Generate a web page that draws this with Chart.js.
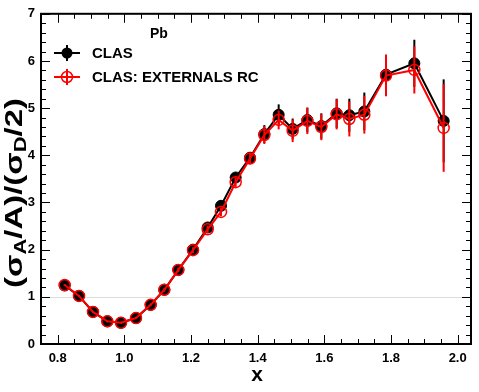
<!DOCTYPE html>
<html><head><meta charset="utf-8">
<script src="https://cdn.jsdelivr.net/npm/chart.js@4/dist/chart.umd.min.js"></script>
<style>html,body{margin:0;padding:0;background:#fff}#wrap{width:479px;height:392px}</style>
</head><body><div id="wrap"><canvas id="c" width="479" height="392"></canvas></div>
<script>
const xValues = [0.821, 0.864, 0.906, 0.949, 0.990, 1.035, 1.079, 1.120, 1.162, 1.206, 1.250, 1.290, 1.334, 1.377, 1.420, 1.463, 1.505, 1.549, 1.591, 1.637, 1.675, 1.720, 1.785, 1.870, 1.958];
const clasY   = [1.24, 1.02, 0.68, 0.48, 0.45, 0.55, 0.83, 1.15, 1.57, 2.00, 2.47, 2.93, 3.53, 3.95, 4.45, 4.86, 4.56, 4.75, 4.62, 4.89, 4.85, 4.93, 5.71, 5.95, 4.73];
const clasErr = [0.02, 0.02, 0.02, 0.02, 0.02, 0.02, 0.03, 0.04, 0.05, 0.06, 0.08, 0.09, 0.10, 0.12, 0.19, 0.22, 0.22, 0.26, 0.27, 0.31, 0.35, 0.40, 0.42, 0.50, 0.88];
const rcY     = [1.25, 1.02, 0.68, 0.48, 0.45, 0.55, 0.83, 1.15, 1.57, 1.99, 2.43, 2.80, 3.43, 3.93, 4.43, 4.75, 4.52, 4.73, 4.60, 4.87, 4.77, 4.86, 5.69, 5.81, 4.58];
const rcErr   = [0.02, 0.02, 0.02, 0.02, 0.02, 0.02, 0.03, 0.04, 0.05, 0.06, 0.08, 0.09, 0.10, 0.12, 0.19, 0.20, 0.24, 0.28, 0.28, 0.32, 0.37, 0.40, 0.44, 0.50, 0.93];
const xTicks = [0.8, 1.0, 1.2, 1.4, 1.6, 1.8, 2.0];
const yTicks = [0, 1, 2, 3, 4, 5, 6, 7];
const seriesNames = ['CLAS', 'CLAS: EXTERNALS RC'];
const targetLabel = 'Pb';

const FONT = '"Liberation Sans", Arial, Helvetica, sans-serif';
const errs = [clasErr, rcErr];

const decor = {
  id: 'decor',
  beforeDatasetsDraw(chart) {
    const ctx = chart.ctx, a = chart.chartArea, y = chart.scales.y;
    ctx.save();
    ctx.strokeStyle = '#dcdcdc'; ctx.lineWidth = 1;
    const py = Math.round(y.getPixelForValue(1)) + 0.5;
    ctx.beginPath(); ctx.moveTo(a.left, py); ctx.lineTo(a.right, py); ctx.stroke();
    ctx.restore();
  },
  beforeDatasetDraw(chart, args) {
    const ctx = chart.ctx, xs = chart.scales.x, ys = chart.scales.y;
    const ds = chart.data.datasets[args.index];
    const e = errs[args.index];
    ctx.save();
    ctx.strokeStyle = ds.borderColor; ctx.lineWidth = 2;
    ds.data.forEach((p, i) => {
      const px = xs.getPixelForValue(p.x);
      ctx.beginPath();
      ctx.moveTo(px, ys.getPixelForValue(p.y - e[i]));
      ctx.lineTo(px, ys.getPixelForValue(p.y + e[i]));
      ctx.stroke();
    });
    ctx.restore();
  },
  afterDraw(chart) {
    const ctx = chart.ctx, a = chart.chartArea, xs = chart.scales.x, ys = chart.scales.y;
    ctx.save();
    // ticks (inward, all four sides)
    ctx.strokeStyle = '#000'; ctx.lineWidth = 1;
    ctx.beginPath();
    for (let v = 0.75; v <= 2.04 + 1e-9; v += 0.05) {
      const major = Math.abs(v * 5 - Math.round(v * 5)) < 1e-6;
      const L = major ? 9 : 5;
      const px = Math.round(xs.getPixelForValue(v)) + 0.5;
      ctx.moveTo(px, a.bottom); ctx.lineTo(px, a.bottom - L);
      ctx.moveTo(px, a.top); ctx.lineTo(px, a.top + L);
    }
    for (let k = 0; k <= 35; k++) {
      const v = k * 0.2;
      const major = k % 5 === 0;
      const L = major ? 9 : 5;
      const py = Math.round(ys.getPixelForValue(v)) + 0.5;
      ctx.moveTo(a.left, py); ctx.lineTo(a.left + L, py);
      ctx.moveTo(a.right, py); ctx.lineTo(a.right - L, py);
    }
    ctx.stroke();
    // frame
    ctx.lineWidth = 2;
    ctx.strokeRect(a.left, a.top, a.right - a.left, a.bottom - a.top);

    // target label
    ctx.fillStyle = '#000';
    ctx.font = 'bold 14px ' + FONT;
    ctx.textAlign = 'left'; ctx.textBaseline = 'alphabetic';
    ctx.fillText(targetLabel, 150, 38);

    // legend
    const legY = [53, 77];
    ctx.font = 'bold 15px ' + FONT;
    legY.forEach((ly, i) => {
      const col = i === 0 ? '#000' : '#ff0000';
      ctx.strokeStyle = col; ctx.lineWidth = 2;
      ctx.beginPath(); ctx.moveTo(54, ly); ctx.lineTo(80, ly);
      ctx.moveTo(67, ly - 8); ctx.lineTo(67, ly + 8); ctx.stroke();
      ctx.beginPath(); ctx.arc(67, ly, 5.5, 0, Math.PI * 2);
      if (i === 0) { ctx.fillStyle = '#000'; ctx.fill(); }
      else { ctx.lineWidth = 1.5; ctx.stroke(); }
      ctx.fillStyle = '#000';
      ctx.textBaseline = 'middle';
      ctx.fillText(seriesNames[i], 92, ly + 1);
    });

    // x title
    ctx.font = 'bold 21px ' + FONT;
    ctx.textAlign = 'center'; ctx.textBaseline = 'alphabetic';
    ctx.fillText('x', 257, 381);

    // y title with subscripts
    const big = 24, small = 16;
    const segs = [['(σ', 0], ['A', 1], ['/A)/(σ', 0], ['D', 1], ['/2)', 0]];
    let total = 0;
    segs.forEach(s => { ctx.font = 'bold ' + (s[1] ? small : big) + 'px ' + FONT; total += ctx.measureText(s[0]).width; });
    const k = 190 / total;
    ctx.translate(22, 193);
    ctx.rotate(-Math.PI / 2);
    ctx.scale(k, 1);
    ctx.textAlign = 'left';
    let cx = -total / 2;
    segs.forEach(s => {
      ctx.font = 'bold ' + (s[1] ? small : big) + 'px ' + FONT;
      ctx.fillText(s[0], cx, s[1] ? 4 : 0);
      cx += ctx.measureText(s[0]).width;
    });
    ctx.restore();
  }
};

new Chart(document.getElementById('c'), {
  type: 'line',
  data: {
    datasets: [
      { label: seriesNames[0], data: xValues.map((x, i) => ({ x, y: clasY[i] })), borderColor: '#000000', backgroundColor: '#000000',
        borderWidth: 2, pointRadius: 5.5, pointBorderWidth: 1, pointBackgroundColor: '#000', pointBorderColor: '#000', order: 1, tension: 0 },
      { label: seriesNames[1], data: xValues.map((x, i) => ({ x, y: rcY[i] })), borderColor: '#ff0000', backgroundColor: 'rgba(0,0,0,0)',
        borderWidth: 2, pointRadius: 5.5, pointBorderWidth: 1.5, pointBackgroundColor: 'rgba(0,0,0,0)', pointBorderColor: '#ff0000', order: 0, tension: 0 }
    ]
  },
  options: {
    responsive: false, animation: false, devicePixelRatio: 1,
    layout: { padding: { left: 0, right: 8, top: 11, bottom: 0 } },
    plugins: { legend: { display: false }, tooltip: { enabled: false } },
    scales: {
      x: {
        type: 'linear', min: 0.75, max: 2.04,
        afterBuildTicks: s => { s.ticks = xTicks.map(v => ({ value: v })); },
        afterFit: s => { s.height = 48; },
        grid: { display: false, drawTicks: false }, border: { display: false },
        ticks: { padding: 7, color: '#000', font: { family: FONT, size: 13, weight: 'bold' }, callback: v => Number(v).toFixed(1), maxRotation: 0, autoSkip: false }
      },
      y: {
        type: 'linear', min: 0, max: 7,
        afterBuildTicks: s => { s.ticks = yTicks.map(v => ({ value: v })); },
        afterFit: s => { s.width = 41; },
        grid: { display: false, drawTicks: false }, border: { display: false },
        ticks: { padding: 6, color: '#000', font: { family: FONT, size: 13, weight: 'bold' }, callback: v => String(v) }
      }
    }
  },
  plugins: [decor]
});
</script></body></html>
